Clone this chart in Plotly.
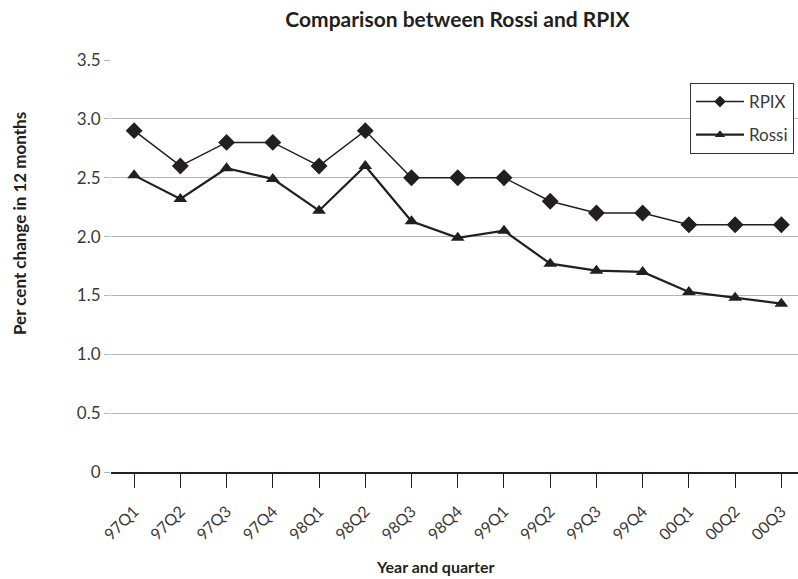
import plotly.graph_objects as go

quarters = ["97Q1", "97Q2", "97Q3", "97Q4", "98Q1", "98Q2", "98Q3", "98Q4",
            "99Q1", "99Q2", "99Q3", "99Q4", "00Q1", "00Q2", "00Q3"]
rpix = [2.9, 2.6, 2.8, 2.8, 2.6, 2.9, 2.5, 2.5, 2.5, 2.3, 2.2, 2.2, 2.1, 2.1, 2.1]
rossi = [2.52, 2.32, 2.58, 2.49, 2.22, 2.60, 2.13, 1.99, 2.05, 1.77, 1.71, 1.70, 1.53, 1.48, 1.43]

y_ticks = [0, 0.5, 1.0, 1.5, 2.0, 2.5, 3.0, 3.5]
y_tick_text = ["0", "0.5", "1.0", "1.5", "2.0", "2.5", "3.0", "3.5"]

ink = "#231f20"
grey_text = "#3a3a3a"
font_family = "Lato, 'Open Sans', sans-serif"

W, H = 798, 579
L, R, T, B = 111, 0, 60, 107
plot_w = W - L - R
plot_h = H - T - B


def px_to_paper(px, py):
    return (px - L) / plot_w, (H - B - py) / plot_h


series = [
    ("RPIX", rpix, "diamond", 13, 1.5),
    ("Rossi", rossi, "triangle-up", 12, 2.2),
]

fig = go.Figure()
for name, values, symbol, size, width in series:
    # full-size markers on the plot
    fig.add_trace(go.Scatter(
        x=quarters, y=values, name=name, mode="lines+markers",
        legendgroup=name, showlegend=False,
        line=dict(color=ink, width=width),
        marker=dict(symbol=symbol, size=size, color=ink),
    ))
    # smaller symbols for the legend key
    fig.add_trace(go.Scatter(
        x=[None], y=[None], name=name, mode="lines+markers",
        legendgroup=name, showlegend=True,
        line=dict(color=ink, width=width),
        marker=dict(symbol=symbol, size=9, color=ink),
    ))

lx, ly = px_to_paper(690, 83)
yt_x, yt_y = px_to_paper(19, 224)
xt_x, xt_y = px_to_paper(435, 566)

fig.update_layout(
    width=W, height=H,
    margin=dict(l=L, r=R, t=T, b=B),
    paper_bgcolor="white", plot_bgcolor="white",
    font=dict(family=font_family, color=grey_text),
    title=dict(
        text="<b>Comparison between Rossi and RPIX</b>",
        x=(287 + 628) / 2 / W, xanchor="center",
        y=1 - 20 / H, yanchor="middle",
        font=dict(size=21, color=ink, family=font_family),
    ),
    legend=dict(
        x=lx, y=ly, xanchor="left", yanchor="top",
        bgcolor="white", bordercolor="#333333", borderwidth=1,
        font=dict(size=17, color=grey_text, family=font_family),
        tracegroupgap=8, itemwidth=48,
    ),
    showlegend=True,
    annotations=[
        dict(text="<b>Per cent change in 12 months</b>", textangle=-90,
             x=yt_x, y=yt_y, xref="paper", yref="paper",
             xanchor="center", yanchor="middle", showarrow=False,
             font=dict(size=17, color=ink, family=font_family)),
        dict(text="<b>Year and quarter</b>",
             x=xt_x, y=xt_y, xref="paper", yref="paper",
             xanchor="center", yanchor="middle", showarrow=False,
             font=dict(size=16, color=ink, family=font_family)),
    ],
)

fig.update_xaxes(
    type="category", range=[-0.5, 14.36],
    showline=True, linecolor=ink, linewidth=1.5,
    ticks="outside", ticklen=14, tickcolor=ink, tickwidth=1,
    tickangle=-45, tickfont=dict(size=16, color=grey_text),
    ticklabelstandoff=8,
    showgrid=False, zeroline=False,
)
fig.update_yaxes(
    range=[0, 3.5], tickvals=y_ticks, ticktext=y_tick_text,
    showgrid=True, gridcolor="#b3b3b3", gridwidth=1,
    ticks="outside", ticklen=6, tickcolor="#b3b3b3",
    zeroline=False, showline=False,
    tickfont=dict(size=17, color=grey_text),
)

fig.write_html("out.html")
